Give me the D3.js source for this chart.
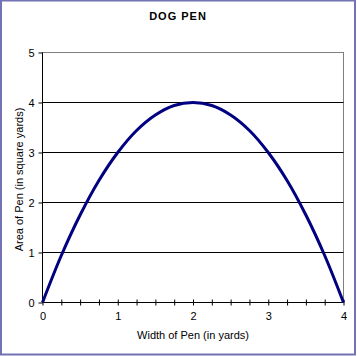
<!DOCTYPE html>
<html><head><meta charset="utf-8">
<script src="https://cdn.jsdelivr.net/npm/d3@7"></script>
<style>html,body{margin:0;padding:0;background:#fff;}svg{display:block;}</style>
</head><body>
<svg id="c" width="357" height="356"></svg>
<script>
const title = "DOG PEN";
const xLabel = "Width of Pen (in yards)";
const yLabel = "Area of Pen (in square yards)";
const widths = [0,0.25,0.5,0.75,1,1.25,1.5,1.75,2,2.25,2.5,2.75,3,3.25,3.5,3.75,4];
const areas  = [0,0.94,1.75,2.44,3,3.44,3.75,3.94,4,3.94,3.75,3.44,3,2.44,1.75,0.94,0];
const xTickValues = [0,0.25,0.5,0.75,1,1.25,1.5,1.75,2,2.25,2.5,2.75,3,3.25,3.5,3.75,4];
const xTickLabels = [0,1,2,3,4];
const yTickValues = [0,1,2,3,4,5];

const svg = d3.select("#c");
const font = "Arial, 'Liberation Sans', sans-serif";
const L = 42.5, R = 343.5, T = 52.5, B = 302.5;
const x = d3.scaleLinear().domain([0,4]).range([L,R]);
const y = d3.scaleLinear().domain([0,5]).range([B,T]);

// outer border
svg.append("rect").attr("x",1).attr("y",0.5).attr("width",354).attr("height",354)
  .attr("fill","#fff").attr("stroke","#7272b4").attr("stroke-width",2);

// plot border (gray)
svg.append("rect").attr("x",L).attr("y",T).attr("width",R-L).attr("height",B-T)
  .attr("fill","none").attr("stroke","#808080").attr("stroke-width",1);

// gridlines
svg.append("g").selectAll("line").data(yTickValues.filter(v=>v>0&&v<5)).join("line")
  .attr("x1",L).attr("x2",R).attr("y1",d=>y(d)).attr("y2",d=>y(d))
  .attr("stroke","#000").attr("stroke-width",1);

// y axis
const yAxis = d3.axisLeft(y).tickValues(yTickValues).tickSize(4).tickPadding(4).tickFormat(d3.format("d"));
const gy = svg.append("g").attr("transform",`translate(${L},0)`).call(yAxis);
gy.select(".domain").attr("stroke","#000").attr("d",`M0,${B}V${T}`);
gy.selectAll("text").attr("font-family",font).attr("font-size",11).attr("fill","#000");
gy.selectAll(".tick line").attr("stroke","#000");

// x axis
const xAxis = d3.axisBottom(x).tickValues(xTickValues).tickSize(3).tickPadding(7)
  .tickFormat(d => xTickLabels.includes(d) ? d3.format("d")(d) : "");
const gx = svg.append("g").attr("transform",`translate(0,${B})`).call(xAxis);
gx.select(".domain").attr("stroke","#000").attr("d",`M${L},0H${R}`);
gx.selectAll(".tick line").attr("stroke","#000").attr("y1",-3).attr("y2",3);
gx.selectAll("text").attr("font-family",font).attr("font-size",11).attr("fill","#000");

// curve
const line = d3.line().x((d,i)=>x(widths[i])).y(d=>y(d)).curve(d3.curveCatmullRom);
svg.append("path").datum(areas).attr("d",line).attr("fill","none")
  .attr("stroke","#000080").attr("stroke-width",3);

// title
svg.append("text").attr("x",178).attr("y",20).attr("text-anchor","middle")
  .attr("font-family",font).attr("font-size",11).attr("font-weight","bold")
  .attr("letter-spacing",1).text(title);

// axis titles
svg.append("text").attr("x",(L+R)/2).attr("y",339).attr("text-anchor","middle")
  .attr("font-family",font).attr("font-size",11).text(xLabel);
svg.append("text").attr("transform",`translate(23,${(T+B)/2+2}) rotate(-90)`).attr("text-anchor","middle")
  .attr("font-family",font).attr("font-size",11).text(yLabel);
</script>
</body></html>
